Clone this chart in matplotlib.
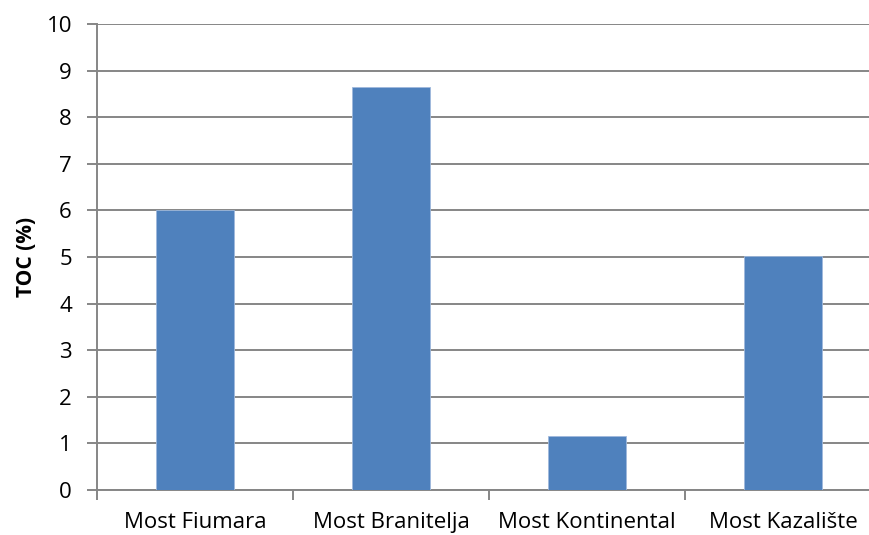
import matplotlib
matplotlib.use("Agg")
import matplotlib.pyplot as plt
import numpy as np

# ---- DATA ----
sites = ["Most Fiumara", "Most Branitelja", "Most Kontinental", "Most Kazalište"]
toc = [6.0, 8.65, 1.15, 5.02]
y_ticks = list(range(0, 11))

GRAY = "#868686"
BLUE = "#4F81BD"

plt.rcParams["font.family"] = ["Open Sans", "DejaVu Sans"]

fig = plt.figure(figsize=(8.7, 5.35), dpi=100)
# plot area runs past the right edge, like the original crop
ax = fig.add_axes([97 / 870, 45 / 535, 784 / 870, 466 / 535])

x = np.arange(len(sites))
ax.bar(x, toc, width=0.4, color=BLUE, edgecolor="#9fb9dc", linewidth=0.6, zorder=3)

ax.set_xlim(-0.5, len(sites) - 0.5)
ax.set_ylim(0, 10)
ax.set_yticks(y_ticks)
ax.yaxis.grid(True, color=GRAY, linewidth=1.4, zorder=0)

ax.set_xticks(x)
ax.set_xticklabels(sites, fontsize=16)
ax.set_xticks(np.arange(-0.5, len(sites)), minor=True)
ax.tick_params(axis="x", which="major", length=0, pad=16)
ax.tick_params(axis="x", which="minor", length=7, color=GRAY, width=1.4)
ax.tick_params(axis="y", length=7, color=GRAY, width=1.4, labelsize=16, pad=11)

for s in ["top", "right"]:
    ax.spines[s].set_visible(False)
for s in ["left", "bottom"]:
    ax.spines[s].set_color(GRAY)
    ax.spines[s].set_linewidth(1.4)

ax.set_ylabel("TOC (%)", fontsize=15, fontweight="bold", labelpad=7)

fig.savefig("out.png", dpi=100)
